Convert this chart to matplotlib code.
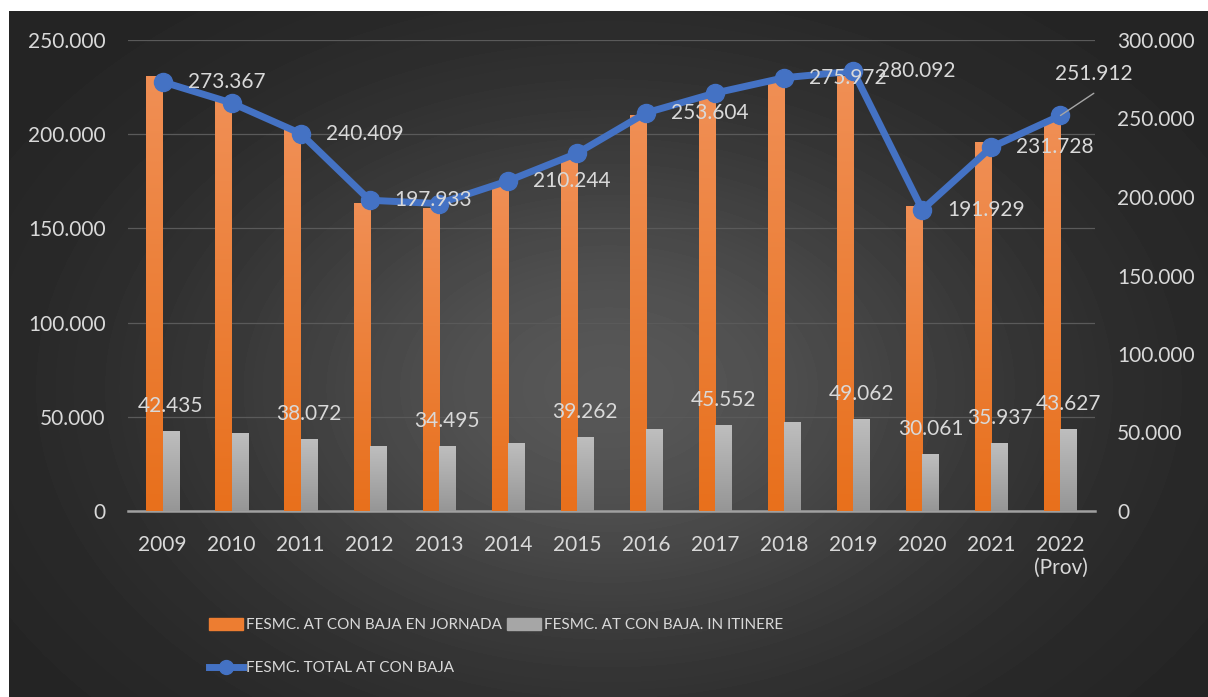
import numpy as np
import matplotlib
matplotlib.use("Agg")
import matplotlib.pyplot as plt
from matplotlib.colors import LinearSegmentedColormap
from matplotlib.lines import Line2D
from matplotlib.patches import Patch
from matplotlib.ticker import FuncFormatter

# data
years = ["2009", "2010", "2011", "2012", "2013", "2014", "2015",
         "2016", "2017", "2018", "2019", "2020", "2021", "2022\n(Prov)"]
jornada = [230932, 218500, 202337, 163433, 160800, 173900, 188500,
           210100, 220600, 228800, 231030, 161868, 195791, 208285]
itinere = [42435, 41400, 38072, 34500, 34495, 36300, 39262,
           43500, 45552, 47200, 49062, 30061, 35937, 43627]
total = [273367, 259900, 240409, 197933, 195800, 210244, 227800,
         253604, 266200, 275972, 280092, 191929, 231728, 251912]
total_labelled = [0, 2, 3, 5, 7, 9, 10, 11, 12]
itinere_labelled = [0, 2, 4, 6, 8, 10, 11, 12, 13]

ORANGE = "#ED7D31"
GREY = "#A6A6A6"
BLUE = "#4472C4"
TXT = "#D9D9D9"
FS = 15


def miles(v, pos=None):
    return f"{v:,.0f}".replace(",", ".")


plt.rcParams["font.family"] = ["Lato", "DejaVu Sans"]

fig = plt.figure(figsize=(12.08, 6.97), dpi=100, facecolor="white")

# dark radial background
bg = fig.add_axes([9 / 1208, 0, 1 - 9 / 1208, 1 - 11 / 697], zorder=-10)
h, w = 686, 1199
yy, xx = np.mgrid[0:h, 0:w]
d2 = ((xx - 0.5 * w) / (0.5 * w)) ** 2 + ((yy - 0.55 * h) / (0.6 * h)) ** 2
shade = 35 + 52 * np.exp(-d2 / 0.45)
bg.imshow(shade, cmap="gray", vmin=0, vmax=255, aspect="auto",
          interpolation="bilinear")
bg.axis("off")

ax = fig.add_axes([128 / 1208, 1 - 511 / 697, 967 / 1208, 471 / 697])
ax.set_facecolor("none")

x = np.arange(len(years))
bw = 0.235
b1 = ax.bar(x - bw / 2, jornada, bw, color=ORANGE, zorder=3)
b2 = ax.bar(x + bw / 2, itinere, bw, color=GREY, zorder=3)


def shade_bars(bars, top, bottom):
    cmap = LinearSegmentedColormap.from_list("g", [bottom, top])
    grad = np.linspace(0, 1, 100).reshape(-1, 1)
    for b in bars:
        x0, y0 = b.get_x(), b.get_y()
        im = ax.imshow(grad, cmap=cmap, origin="lower", aspect="auto",
                       extent=[x0, x0 + b.get_width(), y0, y0 + b.get_height()],
                       zorder=3.1, interpolation="bilinear")
        im.set_clip_path(b)


shade_bars(b1, "#F08F55", "#E8701C")
shade_bars(b2, "#BEBEBE", "#969696")

ax.set_xlim(-0.5, len(years) - 0.5)
ax.set_ylim(0, 250000)
ax.set_yticks(range(0, 250001, 50000))
ax.yaxis.set_major_formatter(FuncFormatter(miles))
ax.set_xticks(x, years)
ax.yaxis.grid(True, color="#5A5A5A", lw=0.9)
ax.set_axisbelow(True)
for s in ["top", "left", "right"]:
    ax.spines[s].set_visible(False)
ax.spines["bottom"].set_color("#A0A0A0")
ax.spines["bottom"].set_linewidth(1.8)
ax.tick_params(axis="both", length=0, colors=TXT, labelsize=FS)
ax.tick_params(axis="y", pad=16)
ax.tick_params(axis="x", pad=17)

for i in itinere_labelled:
    ax.annotate(miles(itinere[i]), (x[i] + bw / 2, itinere[i]),
                xytext=(0, 18), textcoords="offset points",
                ha="center", va="center", fontsize=FS, color=TXT, zorder=6)

ax2 = ax.twinx()
ax2.set_ylim(0, 300000)
ax2.set_yticks(range(0, 300001, 50000))
ax2.yaxis.set_major_formatter(FuncFormatter(miles))
for s in ax2.spines.values():
    s.set_visible(False)
ax2.tick_params(axis="y", length=0, colors=TXT, labelsize=FS, pad=16)

ax2.plot(x, total, color=BLUE, lw=5, marker="o", ms=13, mec=BLUE,
         solid_joinstyle="round", zorder=5)

for i in total_labelled:
    ax2.annotate(miles(total[i]), (x[i], total[i]),
                 xytext=(18, 0), textcoords="offset points",
                 ha="left", va="center", fontsize=FS, color=TXT, zorder=6)

# last point: label pulled up with a leader line
last = len(years) - 1
ax2.annotate("", (x[last], total[last]), xytext=(24, 16),
             textcoords="offset points",
             arrowprops=dict(arrowstyle="-", color="#A6A6A6", lw=1,
                             shrinkA=0, shrinkB=0), zorder=6)
ax2.annotate(miles(total[last]), (x[last], total[last]),
             xytext=(24, 30), textcoords="offset points",
             ha="center", va="center", fontsize=FS, color=TXT, zorder=6)

handles = [Patch(color=ORANGE),
           Line2D([], [], color=BLUE, lw=5, marker="o", ms=10),
           Patch(color=GREY)]
labels = ["FESMC. AT CON BAJA EN JORNADA", "FESMC. TOTAL AT CON BAJA",
          "FESMC. AT CON BAJA. IN ITINERE"]
fig.legend(handles, labels, ncol=2, loc="upper left",
           bbox_to_anchor=(209 / 1208, 1 - 618 / 697), frameon=False,
           fontsize=11, labelcolor=TXT, handlelength=2.2, handleheight=0.8,
           handletextpad=0.25, columnspacing=0.3, labelspacing=1.9,
           borderpad=0, borderaxespad=0)

fig.savefig("out.png", dpi=100)
